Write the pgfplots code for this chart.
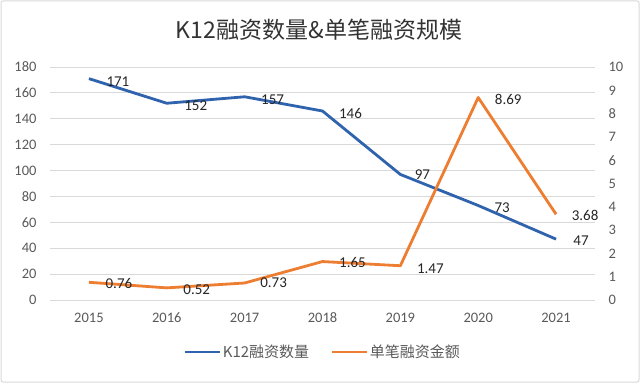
\documentclass[border=0pt]{standalone}
\usepackage{fontspec}
\setmainfont{Carlito}
\newfontfamily\cjk{Noto Sans CJK SC}
\usepackage{pgfplots}
\usepackage{pgfplotstable}
\pgfplotsset{compat=1.18}
\definecolor{myblue}{HTML}{2F63AD}
\definecolor{myorange}{HTML}{ED7D31}
\definecolor{gridgray}{HTML}{D9D9D9}
\definecolor{ticktxt}{HTML}{595959}
\definecolor{labtxt}{HTML}{262626}
\pgfplotstableread{
x y lab dx dy
0 171 171 29 -3
1 152 152 29 -2
2 157 157 28 -2.5
3 146 146 28 -2
4 97 97 22 0
5 73 73 24 -2
6 47 47 25 -1.5
}\bluedata
\pgfplotstableread{
x y lab dx dy
0 0.76 0.76 30 -1
1 0.52 0.52 30 -1.5
2 0.73 0.73 29 0
3 1.65 1.65 30 -1
4 1.47 1.47 30 -3
5 8.69 8.69 30 -2
6 3.68 3.68 29 -1.5
}\orangedata
\pgfplotsset{
  common/.style={
    at={(50pt,83pt)}, anchor=south west, scale only axis,
    width=545pt, height=233pt,
    xmin=-0.5, xmax=6.5, ymin=0,
    axis line style={draw=none}, major tick length=0pt,
    tick label style={font=\fontsize{14.5}{17}\selectfont, text=ticktxt},
    /pgf/number format/assume math mode=true,
    clip=false,
  },
  lab/.style={
    nodes near coords, point meta=explicit symbolic,
    visualization depends on={\thisrow{dx}\as\dx},
    visualization depends on={\thisrow{dy}\as\dy},
    every node near coord/.append style={anchor=center, xshift=\dx pt, yshift=\dy pt,
      font=\fontsize{15}{17}\selectfont, text=labtxt, inner sep=0pt},
  },
}
\begin{document}
\begin{tikzpicture}[x=1pt,y=1pt]
\useasboundingbox (0,0) rectangle (640,383);
\draw[gridgray, line width=1pt, rounded corners=2pt] (1,1) rectangle (639,382);
\node[font=\cjk\fontsize{23}{26}\selectfont, text=black!80] at (319,353) {K12融资数量\&单笔融资规模};
\begin{axis}[common,
  ymax=180, ytick={0,20,...,180},
  xtick={0,...,6}, xticklabels={2015,2016,2017,2018,2019,2020,2021},
  ymajorgrids, grid style={gridgray, line width=0.8pt},
  yticklabel style={xshift=-10pt},
  xticklabel style={yshift=-9.5pt},
]
\addplot[myblue, line width=2.8pt, line join=round, lab] table[x=x,y=y,meta=lab]{\bluedata};
\end{axis}
\begin{axis}[common,
  ymax=10, ytick={0,1,...,10},
  axis x line=none, axis y line*=right,
  yticklabel style={xshift=10pt},
  legend style={at={(0.5,-0.223)}, anchor=center, draw=none, fill=none,
    legend columns=2, font=\cjk\fontsize{15}{17}\selectfont, text=ticktxt,
    nodes={inner sep=1.5pt},
    /tikz/every even column/.append style={column sep=20pt}},
  legend image code/.code={\draw[#1] (0pt,0pt) -- (35pt,0pt);},
]
\addlegendimage{myblue, line width=2.8pt}
\addlegendentry{K12融资数量}
\addplot[myorange, line width=2.8pt, line join=round, lab] table[x=x,y=y,meta=lab]{\orangedata};
\addlegendentry{单笔融资金额}
\end{axis}
\end{tikzpicture}
\end{document}
